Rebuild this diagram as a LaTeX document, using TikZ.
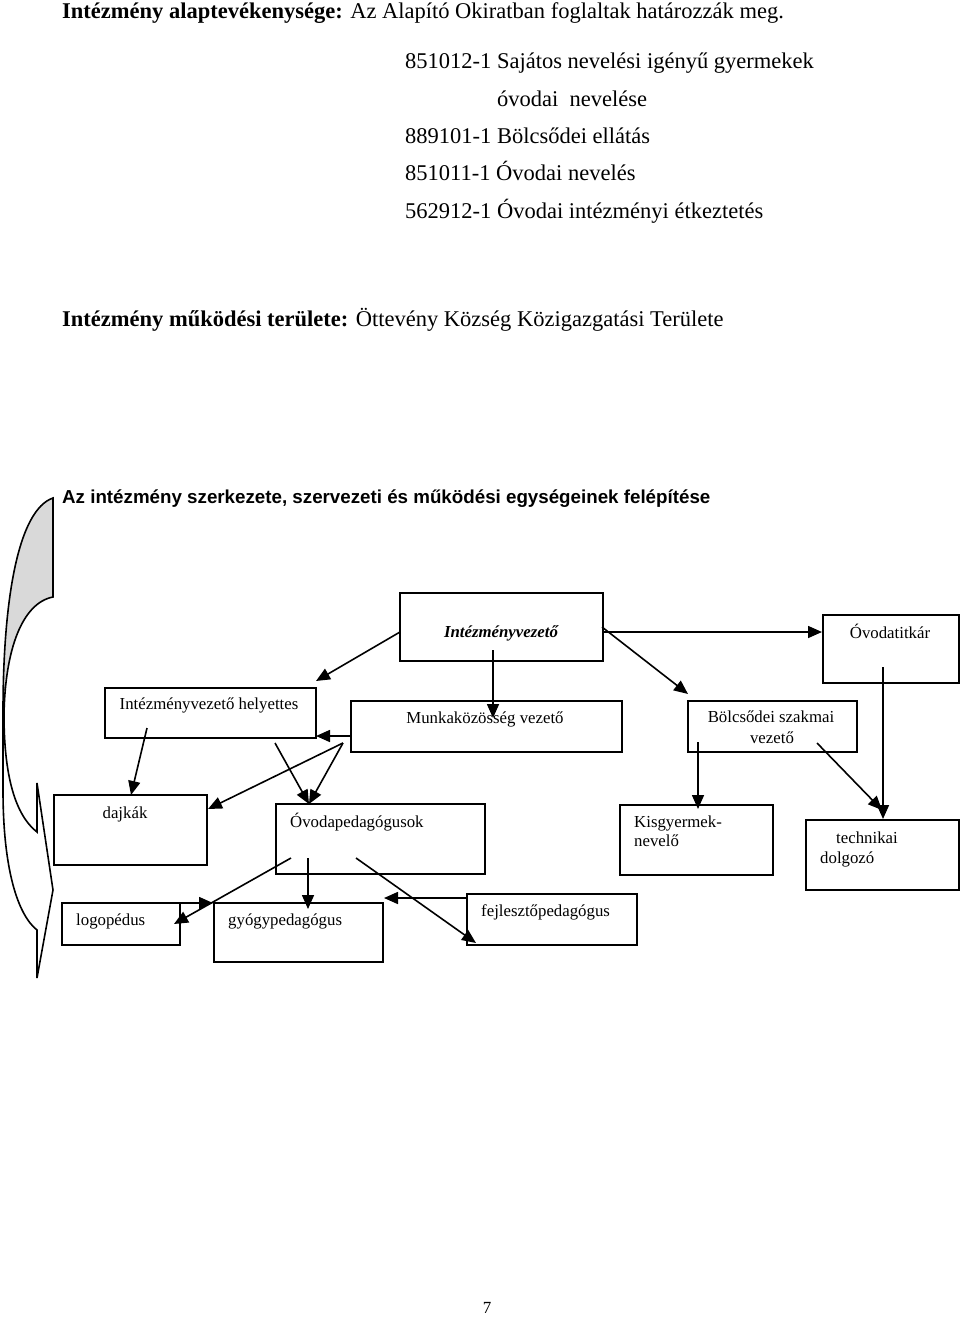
\documentclass[tikz,border=0pt]{standalone}
\usepackage{fontspec}
\setmainfont{Liberation Serif}
\newfontfamily\arialfont{Liberation Sans}
\usetikzlibrary{arrows.meta}
\begin{document}
\begin{tikzpicture}[x=1pt,y=-1pt,
  box/.style={draw, line width=1.6pt, inner sep=0pt, anchor=north west},
  lbl/.style={inner sep=0pt, anchor=base west, font=\fontsize{16.8}{19}\selectfont},
  clbl/.style={inner sep=0pt, anchor=base, font=\fontsize{16.8}{19}\selectfont},
  body/.style={inner sep=0pt, anchor=base west, font=\fontsize{22.5}{26}\selectfont},
  conn/.style={line width=1.6pt, -{Triangle[length=14pt,width=12pt]}},
  outline/.style={line width=1.6pt, line join=miter}]
\fill[white] (0,0) rectangle (960,1317);
\useasboundingbox (0,0) rectangle (960,1317);

% top texts
\node[body] (t1) at (62,19) {\textbf{Intézmény alaptevékenysége:} Az Alapító Okiratban foglaltak határozzák meg.};
\node[body] (t2) at (405,68) {851012-1 Sajátos nevelési igényű gyermekek};
\node[body] (t3) at (497,106) {óvodai~ nevelése};
\node[body] (t4) at (405,143) {889101-1 Bölcsődei ellátás};
\node[body] (t5) at (405,180) {851011-1 Óvodai nevelés};
\node[body] (t6) at (405,218) {562912-1 Óvodai intézményi étkeztetés};
\node[body] (t7) at (62,326) {\textbf{Intézmény működési területe:} Öttevény Község Közigazgatási Területe};
\node[inner sep=0pt, anchor=base west, font=\arialfont\bfseries\fontsize{18.75}{22}\selectfont] (t8) at (62,503) {Az intézmény szerkezete, szervezeti és működési egységeinek felépítése};

% curved arrow on the left
\fill[gray!30] (53,498) .. controls (18,510) and (3,600) .. (3,712)
   .. controls (5,650) and (22,603) .. (53,597) -- cycle;
\draw[outline] (53,498) .. controls (18,510) and (3,600) .. (3,712) -- (3,790)
   .. controls (3,870) and (18,915) .. (37,930) -- (37,978) -- (53,890) -- (37,783) -- (37,832)
   .. controls (15,815) and (4,775) .. (4,715) .. controls (5,650) and (22,603) .. (53,597) -- cycle;

% boxes
\node[box, minimum width=203pt, minimum height=68pt] (iv) at (399,592) {};
\node[box, minimum width=136pt, minimum height=68pt] (titkar) at (822,614) {};
\node[box, minimum width=211pt, minimum height=50pt] (hely) at (104,687) {};
\node[box, minimum width=271pt, minimum height=51pt] (munka) at (350,700) {};
\node[box, minimum width=169pt, minimum height=51pt] (bolcs) at (687,700) {};
\node[box, minimum width=153pt, minimum height=70pt] (dajka) at (53,794) {};
\node[box, minimum width=209pt, minimum height=70pt] (ovped) at (275,803) {};
\node[box, minimum width=153pt, minimum height=70pt] (kisgy) at (619,804) {};
\node[box, minimum width=153pt, minimum height=70pt] (techn) at (805,819) {};
\node[box, minimum width=118pt, minimum height=42pt] (logo) at (61,902) {};
\node[box, minimum width=169pt, minimum height=59pt] (gyogy) at (213,902) {};
\node[box, minimum width=170pt, minimum height=51pt] (fejl) at (466,893) {};

% labels
\node[clbl, font=\fontsize{16.8}{19}\selectfont\bfseries\itshape] (l1) at (501,637) {Intézményvezető};
\node[clbl] (l2) at (890,638) {Óvodatitkár};
\node[clbl] (l3) at (209,709) {Intézményvezető helyettes};
\node[clbl] (l4) at (485,723) {Munkaközösség vezető};
\node[clbl] (l5) at (771,722) {Bölcsődei szakmai};
\node[clbl] (l6) at (772,743) {vezető};
\node[clbl] (l7) at (125,818) {dajkák};
\node[lbl] (l8) at (290,827) {Óvodapedagógusok};
\node[lbl] (l9) at (634,827) {Kisgyermek-};
\node[lbl] (l10) at (634,846) {nevelő};
\node[clbl] (l11) at (867,843) {technikai};
\node[lbl] (l12) at (820,863) {dolgozó};
\node[lbl] (l13) at (76,925) {logopédus};
\node[lbl] (l14) at (228,925) {gyógypedagógus};
\node[lbl] (l15) at (481,916) {fejlesztőpedagógus};
\node[inner sep=0pt, anchor=base, font=\fontsize{17}{19}\selectfont] (pg) at (487,1313) {7};

% connector endpoints
\coordinate (a1s) at (400,632);  \coordinate (a1e) at (316,681);
\coordinate (a2s) at (493,650);  \coordinate (a2e) at (493,718);
\coordinate (a3s) at (602,632);  \coordinate (a3e) at (822,632);
\coordinate (a4s) at (602,627);  \coordinate (a4e) at (688,694);
\coordinate (a5s) at (350,736);  \coordinate (a5e) at (316,736);
\coordinate (a6s) at (147,728);  \coordinate (a6e) at (131,795);
\coordinate (a7s) at (343,743);  \coordinate (a7e) at (208,809);
\coordinate (a8e) at (309,804);
\coordinate (a9s) at (275,743);
\coordinate (a10s) at (698,742); \coordinate (a10e) at (698,809);
\coordinate (a11s) at (817,743); \coordinate (a11e) at (882,810);
\coordinate (a12s) at (883,667); \coordinate (a12e) at (883,819);
\coordinate (a13s) at (291,858); \coordinate (a13e) at (174,924);
\coordinate (a14s) at (308,858); \coordinate (a14e) at (308,909);
\coordinate (a15s) at (356,858); \coordinate (a15e) at (476,943);
\coordinate (a16s) at (466,898); \coordinate (a16e) at (384,898);
\coordinate (a17s) at (179,903); \coordinate (a17e) at (213,903);

% connectors
\draw[conn] (a1s) -- (a1e);
\draw[conn] (a2s) -- (a2e);
\draw[conn] (a3s) -- (a3e);
\draw[conn] (a4s) -- (a4e);
\draw[conn] (a5s) -- (a5e);
\draw[conn] (a6s) -- (a6e);
\draw[conn] (a7s) -- (a7e);
\draw[conn] (a7s) -- (a8e);
\draw[conn] (a9s) -- (a8e);
\draw[conn] (a10s) -- (a10e);
\draw[conn] (a11s) -- (a11e);
\draw[conn] (a12s) -- (a12e);
\draw[conn] (a13s) -- (a13e);
\draw[conn] (a14s) -- (a14e);
\draw[conn] (a15s) -- (a15e);
\draw[conn] (a16s) -- (a16e);
\draw[conn] (a17s) -- (a17e);
\end{tikzpicture}
\end{document}
